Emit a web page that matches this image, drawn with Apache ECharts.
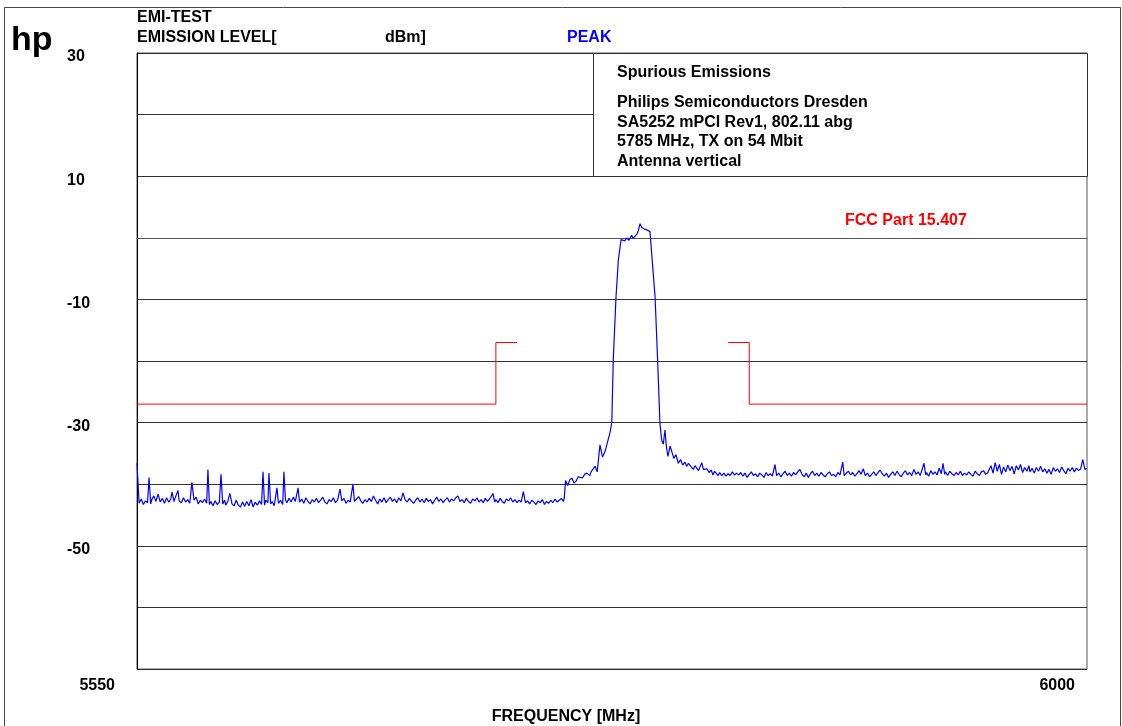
<!DOCTYPE html>
<html>
<head>
<meta charset="utf-8">
<title>EMI-TEST Spurious Emissions</title>
<script src="https://cdn.jsdelivr.net/npm/echarts@6/dist/echarts.min.js"></script>
<style>
  html, body { margin: 0; padding: 0; background: #fff; }
  #emi-chart { width: 1122px; height: 726px; }
</style>
</head>
<body>
<div id="emi-chart"></div>
<script>
// y axis ticks that carry a label
const levelLabels = [30, 10, -10, -30, -50]
const freqLabels = [5550, 6000]

// peak trace [MHz, dBm] - noise floor below the channel
const floorLow = [
  [5550, -36.6], [5551, -43.1], [5552, -42.4], [5553, -43.3], [5554, -42.7], [5555, -43.0],
  [5555.7, -38.9], [5556.5, -43.2], [5557, -42.5], [5558, -41.9], [5559, -42.8], [5560, -41.6],
  [5561, -42.9], [5562, -42.3], [5563, -43.1], [5564, -42.2], [5565, -42.9], [5566, -42.4],
  [5566.6, -41.3], [5567.5, -42.8], [5568, -42.3], [5569.4, -41.0], [5570, -42.7], [5571, -43.0],
  [5572, -42.2], [5573, -42.9], [5574, -42.5], [5575, -43.1], [5576, -39.7], [5577, -42.6],
  [5578, -42.1], [5579, -43.2], [5580, -42.6], [5581, -43.0], [5582, -42.4], [5583, -43.1],
  [5583.6, -37.6], [5584.3, -43.3], [5585, -42.8], [5586, -43.5], [5587, -42.7], [5588, -43.3],
  [5589, -42.9], [5589.8, -38.4], [5590.6, -43.2], [5591.5, -42.6], [5592, -43.4], [5593, -42.8],
  [5594, -41.5], [5595, -43.2], [5596, -43.5], [5597, -42.6], [5598, -43.4], [5599, -43.7],
  [5600, -42.9], [5601, -43.6], [5602, -42.8], [5603, -43.5], [5604, -42.5], [5605, -43.7],
  [5606, -42.9], [5607, -43.4], [5608, -42.7], [5609, -43.3], [5609.7, -38.0], [5610.4, -43.4],
  [5611, -42.6], [5612, -43.0], [5612.5, -38.2], [5613.3, -43.2], [5614, -42.8], [5615, -43.5],
  [5616.3, -40.6], [5617, -43.1], [5618, -42.6], [5619, -43.3], [5619.6, -38.0], [5620.3, -42.5],
  [5621, -43.0], [5622, -42.3], [5623, -42.9], [5624, -42.1], [5625, -42.8], [5626.3, -40.6],
  [5627, -42.9], [5628, -42.4], [5629, -43.1], [5630, -42.2], [5631, -42.8], [5632, -43.2],
  [5633, -42.5], [5634, -42.9], [5635, -42.3], [5636, -43.0], [5637, -42.6], [5638, -42.1],
  [5639, -42.9], [5640, -43.2], [5641, -42.5], [5642, -42.8], [5643, -42.2], [5644, -43.0],
  [5645, -42.6], [5646.2, -40.8], [5647, -42.7], [5648, -42.3], [5649, -43.1], [5650, -42.6],
  [5651, -42.9], [5652.3, -40.0], [5653, -42.8], [5654, -42.4], [5655, -42.0], [5656, -42.7],
  [5657, -43.1], [5658, -42.5], [5659, -42.9], [5660, -42.3], [5661, -42.8], [5662, -41.9],
  [5663, -42.6], [5664, -43.2], [5665, -42.4], [5666, -42.9], [5667, -42.2], [5668, -43.0],
  [5669, -42.5], [5670, -42.1], [5671, -42.8], [5672, -42.4], [5673, -43.0], [5674, -42.2],
  [5675, -42.7], [5676, -41.4], [5677, -42.5], [5678, -42.9], [5679, -42.3], [5680, -42.7],
  [5681, -43.1], [5682, -42.6], [5683, -42.2], [5684, -42.9], [5685, -42.4], [5686, -43.0],
  [5687, -42.3], [5688, -42.8], [5689, -42.5], [5690, -43.2], [5691, -42.6], [5692, -42.1],
  [5693, -42.8], [5694, -42.4], [5695, -43.0], [5696, -42.5], [5697, -42.2], [5698, -42.9],
  [5699, -42.4], [5700, -42.7], [5701, -42.2], [5702, -41.9], [5703, -42.8], [5704, -42.5],
  [5705, -43.0], [5706, -42.3], [5707, -42.8], [5708, -43.1], [5709, -42.4], [5710, -42.7],
  [5711, -42.2], [5712, -42.9], [5713, -42.5], [5714, -43.0], [5715, -42.3], [5716, -42.8],
  [5717, -42.4], [5718.6, -41.5], [5719.5, -42.9], [5720, -42.5], [5721, -43.0], [5722, -42.3],
  [5723, -42.8], [5724, -43.1], [5725, -42.4], [5726, -42.7], [5727, -42.2], [5728, -42.9],
  [5729, -42.5], [5730, -43.0], [5731, -42.6], [5732, -42.9], [5733, -41.2], [5734, -43.0],
  [5735, -42.7], [5736, -43.2], [5737, -42.6], [5738, -42.9], [5739, -43.3], [5740, -42.7],
  [5741, -43.0], [5742, -42.5], [5743, -43.3], [5744, -42.8], [5745, -43.1], [5746, -42.6],
  [5747, -43.0], [5748, -42.4], [5749, -42.9], [5750, -42.6], [5751, -42.3], [5752, -42.8],
  [5752.4, -42.2]
]

// channel at 5785 MHz, skirts and top
const carrier = [
  [5753, -39.4], [5754, -40.2], [5755, -39.3], [5756, -39.0], [5757, -39.8], [5758, -39.5],
  [5759, -38.8], [5759.8, -38.5], [5761, -39.0], [5762, -38.4], [5763, -38.2], [5764.5, -38.6],
  [5765.2, -37.9], [5766, -37.6], [5767, -37.1], [5768, -38.0], [5769.3, -33.6], [5770.5, -35.6],
  [5771.7, -34.7], [5773, -33.0], [5774, -31.7], [5774.9, -30.0], [5775.6, -19.8], [5776.9, -9.6],
  [5778, -3.6], [5779.3, -0.3], [5780, 0.0], [5781, -0.5], [5782, 0.0], [5783, -0.4],
  [5784.3, 0.4], [5785, -0.1], [5785.9, 0.2], [5786.8, 0.6], [5787.5, 1.2], [5788.3, 2.3],
  [5789, 1.7], [5789.7, 2.0], [5790.5, 1.4], [5791.2, 1.5], [5792, 1.2], [5793, 1.0],
  [5793.8, 1.0], [5795.4, -9.6], [5796.6, -19.8], [5797.7, -30.0], [5798.5, -32.8], [5799.3, -33.5],
  [5800.1, -31.2], [5800.8, -34.0], [5801.5, -35.5], [5802.5, -33.8], [5803.3, -33.6], [5804.3, -35.8],
  [5805.3, -35.2], [5806.4, -36.6], [5807.5, -36.0], [5808.5, -36.9], [5809.5, -36.4], [5810.4, -37.1],
  [5811.2, -36.6], [5812, -36.8], [5813.5, -37.6], [5814.3, -37.0], [5815, -37.2], [5816, -37.8],
  [5816.7, -37.7], [5817.5, -36.5], [5818.3, -37.6], [5819, -37.9], [5820, -37.5], [5821, -38.1],
  [5822, -37.7], [5822.8, -38.5], [5823.6, -37.9], [5824.5, -38.0], [5825.3, -38.6], [5826, -38.1],
  [5827, -38.6], [5828, -38.2], [5829, -38.7], [5830, -38.3], [5831, -38.6], [5832, -38.0],
  [5833, -38.5], [5834, -38.2]
]

// noise floor above the channel
const floorHigh = [
  [5835, -38.5], [5836, -38.1], [5837, -38.7], [5838, -38.2], [5839, -38.9], [5840, -38.4],
  [5841, -38.0], [5842, -38.6], [5843, -38.3], [5844, -38.8], [5845, -38.2], [5846, -38.5],
  [5847, -38.9], [5848, -38.1], [5849, -38.6], [5850, -38.3], [5851, -38.7], [5852.2, -36.8],
  [5853, -38.6], [5854, -38.2], [5855, -38.8], [5856, -38.3], [5857, -37.9], [5858, -38.6],
  [5859, -38.2], [5860, -38.7], [5861, -38.1], [5862, -38.5], [5863, -38.0], [5864, -37.6],
  [5865, -38.4], [5866, -38.8], [5867, -38.2], [5868, -38.9], [5869, -38.3], [5870, -37.9],
  [5871, -38.6], [5872, -38.2], [5873, -38.7], [5874, -38.1], [5875, -38.5], [5876, -38.8],
  [5877, -38.3], [5878, -38.0], [5879, -38.6], [5880, -38.4], [5881, -38.8], [5882, -38.1],
  [5883, -38.5], [5884.3, -36.4], [5885, -38.6], [5886, -38.2], [5887, -37.9], [5888, -38.5],
  [5889, -38.1], [5890, -38.7], [5891, -38.3], [5892, -37.8], [5893, -38.4], [5894, -37.5],
  [5895, -38.6], [5896, -38.2], [5897, -38.8], [5898, -38.4], [5899, -38.0], [5900, -38.6],
  [5901, -38.1], [5902, -37.7], [5903, -38.3], [5904, -38.7], [5905, -38.2], [5906, -38.9],
  [5907, -38.4], [5908, -38.0], [5909, -38.6], [5910, -37.9], [5911, -38.4], [5912, -38.8],
  [5913, -38.2], [5914, -37.8], [5915, -38.5], [5916, -38.1], [5917, -38.6], [5918, -37.6],
  [5919, -38.4], [5920, -38.0], [5921, -38.6], [5922.8, -36.6], [5923.6, -38.5], [5924, -38.1],
  [5925, -38.7], [5926, -37.8], [5927, -38.4], [5928, -38.0], [5929, -38.5], [5930, -37.4],
  [5931, -38.3], [5931.8, -36.6], [5932.6, -38.4], [5933, -38.0], [5934, -38.6], [5935, -37.9],
  [5936, -38.3], [5937, -38.6], [5938, -38.1], [5939, -38.5], [5940, -37.9], [5941, -38.6],
  [5942, -38.2], [5943, -38.5], [5944, -38.0], [5945, -38.4], [5946, -38.7], [5947, -37.9],
  [5948, -38.3], [5949, -38.6], [5950, -38.0], [5951, -37.8], [5952, -38.4], [5953, -38.1],
  [5954.5, -37.0], [5955.5, -38.2], [5956.5, -36.5], [5957.5, -37.9], [5958.5, -36.8], [5959.5, -38.4],
  [5960.5, -37.2], [5961.5, -38.0], [5962.5, -36.9], [5963.5, -37.8], [5964.5, -37.1], [5965.5, -38.3],
  [5966.5, -37.0], [5967.5, -37.7], [5968.5, -36.8], [5969.5, -38.1], [5970.5, -37.3], [5971.5, -37.9],
  [5972.5, -37.0], [5973, -38.0], [5974, -37.4], [5975, -38.2], [5976, -37.3], [5977, -37.9],
  [5978, -37.1], [5979, -38.0], [5980, -37.5], [5981, -38.2], [5982, -37.6], [5983, -38.4],
  [5984, -37.3], [5985, -37.9], [5986, -37.5], [5987, -38.1], [5988, -37.2], [5989, -37.8],
  [5990, -38.3], [5991, -37.4], [5992, -37.9], [5993, -37.3], [5994, -38.0], [5995, -37.4],
  [5996, -37.8], [5997, -37.5], [5998, -36.0], [5999, -37.6], [6000, -37.4]
]

// FCC Part 15.407 limit [MHz, dBm]
const limitLow = [[5550, -27], [5720, -27], [5720, -17], [5730, -17]]
const limitHigh = [[5830, -17], [5840, -17], [5840, -27], [6000, -27]]

const boxLines = [
  'Spurious Emissions',
  'Philips Semiconductors Dresden',
  'SA5252 mPCI Rev1, 802.11 abg',
  '5785 MHz, TX on 54 Mbit',
  'Antenna vertical'
]
const boxLineY = [73, 103, 123, 142, 162]

const FAMILY = '"Liberation Sans", Arial, sans-serif'
const FONT = 'bold 16px ' + FAMILY

function initChart () {
  const myChart = echarts.init(document.getElementById('emi-chart'))
  const peakTrace = floorLow.concat(carrier, floorHigh)

  const texts = [
    { x: 11, y: 41, text: 'hp', font: 'bold 34px ' + FAMILY, fill: '#000' },
    { x: 137, y: 18, text: 'EMI-TEST', font: FONT, fill: '#000' },
    { x: 137, y: 38, text: 'EMISSION LEVEL[', font: FONT, fill: '#000' },
    { x: 385, y: 38, text: 'dBm]', font: FONT, fill: '#000' },
    { x: 567, y: 38, text: 'PEAK', font: FONT, fill: '#0000ff' },
    { x: 845, y: 221, text: 'FCC Part 15.407', font: FONT, fill: '#ff0000' }
  ]
  boxLines.forEach((t, i) => {
    texts.push({ x: 617, y: boxLineY[i], text: t, font: FONT, fill: '#000' })
  })

  const option = {
    animation: false,
    backgroundColor: '#fff',
    grid: {
      left: 137,
      top: 53,
      width: 950,
      height: 616,
      containLabel: false,
      outerBoundsMode: 'none',
      show: true,
      borderColor: '#555',
      borderWidth: 1
    },
    xAxis: {
      type: 'value',
      min: 5550,
      max: 6000,
      interval: 50,
      name: 'FREQUENCY [MHz]',
      nameLocation: 'middle',
      nameGap: 40,
      nameTextStyle: {
        color: '#000',
        fontWeight: 'bold',
        fontSize: 16,
        fontFamily: FAMILY,
        padding: [0, 92, 0, 0]
      },
      axisLine: { show: true, lineStyle: { color: '#555' } },
      axisTick: { show: false },
      splitLine: { show: false },
      axisLabel: {
        margin: 9,
        align: 'right',
        color: '#000',
        fontWeight: 'bold',
        fontSize: 16,
        fontFamily: FAMILY,
        formatter: function (v) {
          if (v === freqLabels[0]) return '{a|' + v + '}'
          if (v === freqLabels[1]) return '{b|' + v + '}'
          return ''
        },
        rich: {
          a: { padding: [0, 22, 0, 0], fontWeight: 'bold', fontSize: 16, fontFamily: FAMILY, color: '#000' },
          b: { padding: [0, 12, 0, 0], fontWeight: 'bold', fontSize: 16, fontFamily: FAMILY, color: '#000' }
        }
      }
    },
    yAxis: {
      type: 'value',
      min: -70,
      max: 30,
      interval: 10,
      axisLine: { show: true, lineStyle: { color: '#000' } },
      axisTick: { show: false },
      splitLine: { show: true, lineStyle: { color: '#333', width: 1 } },
      axisLabel: {
        align: 'left',
        verticalAlign: 'top',
        lineHeight: 8,
        margin: 70,
        color: '#000',
        fontWeight: 'bold',
        fontSize: 16,
        fontFamily: FAMILY,
        formatter: function (v) {
          return levelLabels.indexOf(v) >= 0 ? String(v) : ''
        }
      }
    },
    graphic: {
      elements: [
        {
          type: 'rect',
          z: 0,
          shape: { x: 4.5, y: 7.5, width: 1116, height: 730 },
          style: { fill: 'none', stroke: '#444', lineWidth: 1 }
        },
        {
          type: 'rect',
          z: 10,
          shape: { x: 593.5, y: 53.5, width: 494, height: 123 },
          style: { fill: '#fff', stroke: '#333', lineWidth: 1 }
        }
      ].concat(texts.map(t => ({
        type: 'text',
        z: 11,
        x: t.x,
        y: t.y,
        style: {
          text: t.text,
          font: t.font,
          fill: t.fill,
          align: 'left',
          verticalAlign: 'middle'
        }
      })))
    },
    series: [
      {
        name: 'PEAK',
        type: 'line',
        data: peakTrace,
        showSymbol: false,
        symbol: 'none',
        z: 5,
        lineStyle: { width: 1.2, color: '#0000ff' }
      },
      {
        name: 'FCC low',
        type: 'line',
        data: limitLow,
        showSymbol: false,
        symbol: 'none',
        z: 4,
        lineStyle: { width: 1, color: '#ff0000' }
      },
      {
        name: 'FCC high',
        type: 'line',
        data: limitHigh,
        showSymbol: false,
        symbol: 'none',
        z: 4,
        lineStyle: { width: 1, color: '#ff0000' }
      }
    ]
  }
  myChart.setOption(option)
}

initChart()
</script>
</body>
</html>
